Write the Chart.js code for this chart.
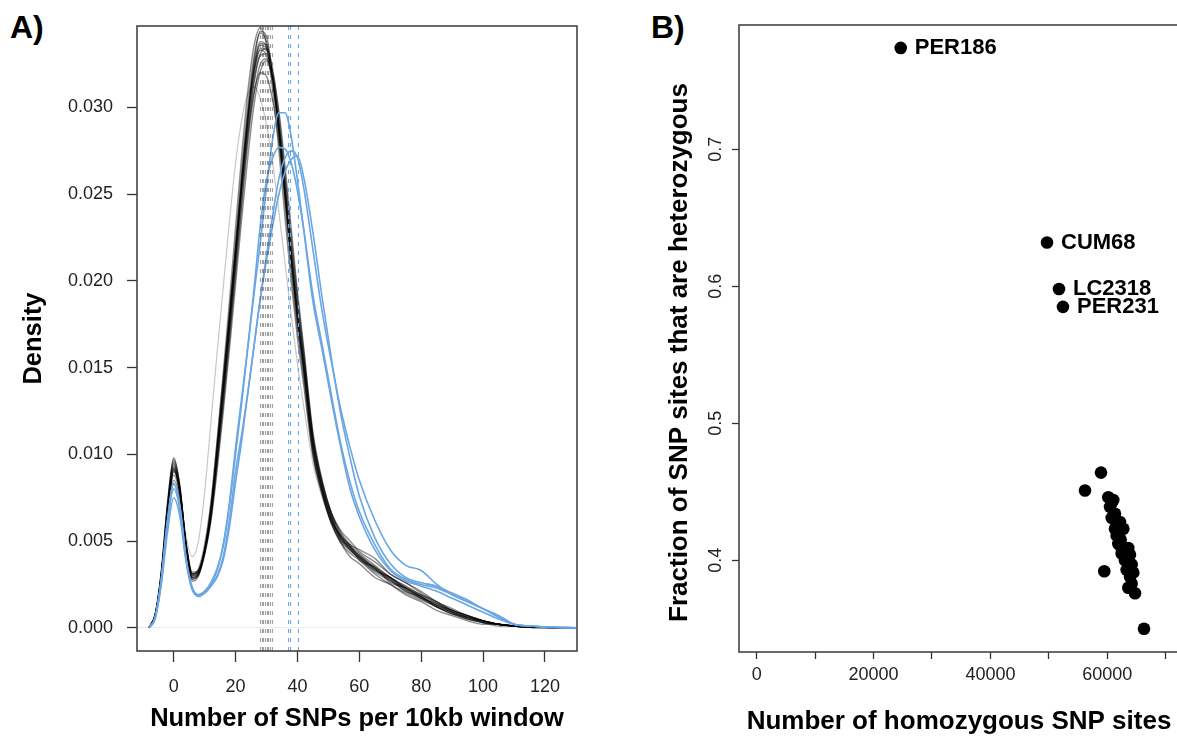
<!DOCTYPE html>
<html>
<head>
<meta charset="utf-8">
<title>SNP density and heterozygosity</title>
<script src="https://cdn.jsdelivr.net/npm/chart.js@4.4.1/dist/chart.umd.min.js"></script>
<style>
  body { margin: 0; width: 1177px; height: 737px; overflow: hidden; position: relative; background: #fff; }
  canvas { position: absolute; top: 0; }
  .panel-tag { position: absolute; font: bold 32px/32px 'Liberation Sans', Arial, Helvetica, sans-serif; color: #000; }
</style>
</head>
<body>
<div class="panel-tag" style="left:10px; top:11px;">A)</div>
<div class="panel-tag" style="left:651px; top:11px;">B)</div>
<canvas id="densityChart" width="590" height="737" style="left:0;"></canvas>
<canvas id="scatterChart" width="590" height="737" style="left:590px;"></canvas>

<script>
// ---- panel A: density of SNPs per 10kb window ----
const snpWindow = [-8, -6, -4, -2, 0, 2, 4, 6, 8, 10, 12, 14, 16, 18, 20, 22, 24, 26, 28, 30,
  32, 34, 36, 38, 40, 42, 45, 48, 51, 54, 57, 60, 65, 70, 75, 80, 85, 90, 95, 100, 105, 110, 115, 120, 130];

// one row per sample (black = main group)
const blackDensity = [
  [0, 0.0007, 0.0030, 0.0068, 0.0094, 0.0080, 0.0048, 0.0030, 0.0032, 0.0044,
   0.0066, 0.0100, 0.0137, 0.0175, 0.0215, 0.0256, 0.0292, 0.0319, 0.0334, 0.0333,
   0.0316, 0.0287, 0.0250, 0.0212, 0.0178, 0.0150, 0.0104, 0.0080, 0.0063, 0.0052,
   0.0046, 0.0041, 0.0034, 0.0028, 0.0022, 0.0018, 0.0013, 0.0009, 0.0006, 0.0004,
   0.0002, 0.0001, 0.00004, 0.00002, 0],
  [0, 0.0008, 0.0033, 0.0072, 0.0098, 0.0082, 0.0047, 0.0028, 0.0030, 0.0043,
   0.0066, 0.0102, 0.0141, 0.0181, 0.0223, 0.0265, 0.0302, 0.0330, 0.0343, 0.0338,
   0.0316, 0.0283, 0.0244, 0.0205, 0.0172, 0.0144, 0.0100, 0.0077, 0.0061, 0.0051,
   0.0045, 0.0040, 0.0032, 0.0027, 0.0021, 0.0017, 0.0012, 0.0008, 0.0005, 0.0003,
   0.0002, 0.0001, 0.00003, 0.00001, 0],
  [0, 0.0006, 0.0027, 0.0062, 0.0088, 0.0076, 0.0047, 0.0031, 0.0032, 0.0042,
   0.0062, 0.0093, 0.0128, 0.0165, 0.0204, 0.0243, 0.0280, 0.0308, 0.0325, 0.0328,
   0.0316, 0.0291, 0.0258, 0.0222, 0.0188, 0.0158, 0.0110, 0.0083, 0.0065, 0.0053,
   0.0048, 0.0045, 0.0040, 0.0031, 0.0026, 0.0021, 0.0015, 0.0011, 0.0007, 0.0004,
   0.0002, 0.0001, 0.00005, 0.00002, 0],
  [0, 0.0007, 0.0031, 0.0069, 0.0092, 0.0078, 0.0046, 0.0028, 0.0031, 0.0044,
   0.0067, 0.0101, 0.0139, 0.0178, 0.0219, 0.0260, 0.0297, 0.0325, 0.0338, 0.0335,
   0.0318, 0.0288, 0.0251, 0.0213, 0.0178, 0.0149, 0.0102, 0.0078, 0.0061, 0.0053,
   0.0047, 0.0039, 0.0035, 0.0026, 0.0023, 0.0017, 0.0013, 0.0010, 0.0006, 0.0003,
   0.0002, 0.0001, 0.00004, 0.00002, 0],
  [0, 0.0006, 0.0028, 0.0064, 0.0090, 0.0078, 0.0049, 0.0032, 0.0033, 0.0043,
   0.0061, 0.0090, 0.0124, 0.0160, 0.0198, 0.0236, 0.0272, 0.0302, 0.0321, 0.0327,
   0.0320, 0.0298, 0.0266, 0.0230, 0.0194, 0.0162, 0.0113, 0.0085, 0.0066, 0.0055,
   0.0048, 0.0043, 0.0036, 0.0029, 0.0024, 0.0019, 0.0015, 0.0010, 0.0007, 0.0004,
   0.0002, 0.0001, 0.00005, 0.00002, 0],
  [0, 0.0007, 0.0031, 0.0070, 0.0096, 0.0081, 0.0047, 0.0029, 0.0031, 0.0043,
   0.0064, 0.0097, 0.0133, 0.0171, 0.0212, 0.0255, 0.0295, 0.0327, 0.0344, 0.0341,
   0.0318, 0.0285, 0.0247, 0.0209, 0.0175, 0.0147, 0.0103, 0.0079, 0.0062, 0.0050,
   0.0045, 0.0040, 0.0033, 0.0028, 0.0021, 0.0018, 0.0012, 0.0008, 0.0006, 0.0003,
   0.0001, 0.0001, 0.00003, 0.00001, 0],
  [0, 0.0007, 0.0030, 0.0066, 0.0091, 0.0079, 0.0049, 0.0031, 0.0034, 0.0048,
   0.0072, 0.0107, 0.0144, 0.0181, 0.0218, 0.0254, 0.0286, 0.0309, 0.0320, 0.0318,
   0.0304, 0.0280, 0.0249, 0.0215, 0.0182, 0.0154, 0.0108, 0.0082, 0.0064, 0.0052,
   0.0046, 0.0042, 0.0034, 0.0029, 0.0023, 0.0018, 0.0013, 0.0009, 0.0006, 0.0004,
   0.0002, 0.0001, 0.00004, 0.00002, 0],
  [0, 0.0008, 0.0032, 0.0070, 0.0095, 0.0079, 0.0046, 0.0029, 0.0031, 0.0044,
   0.0066, 0.0099, 0.0136, 0.0174, 0.0214, 0.0255, 0.0293, 0.0322, 0.0337, 0.0336,
   0.0319, 0.0290, 0.0252, 0.0214, 0.0180, 0.0152, 0.0106, 0.0080, 0.0064, 0.0051,
   0.0047, 0.0041, 0.0033, 0.0029, 0.0022, 0.0017, 0.0014, 0.0009, 0.0006, 0.0004,
   0.0002, 0.0001, 0.00004, 0.00002, 0],
  [0, 0.0007, 0.0030, 0.0067, 0.0093, 0.0080, 0.0048, 0.0030, 0.0032, 0.0045,
   0.0067, 0.0101, 0.0138, 0.0176, 0.0216, 0.0257, 0.0294, 0.0321, 0.0333, 0.0330,
   0.0314, 0.0286, 0.0250, 0.0213, 0.0179, 0.0151, 0.0105, 0.0081, 0.0062, 0.0053,
   0.0045, 0.0041, 0.0034, 0.0027, 0.0023, 0.0018, 0.0012, 0.0009, 0.0005, 0.0004,
   0.0002, 0.0001, 0.00004, 0.00001, 0],
  [0, 0.0007, 0.0032, 0.0071, 0.0097, 0.0081, 0.0046, 0.0027, 0.0030, 0.0045,
   0.0070, 0.0107, 0.0147, 0.0188, 0.0231, 0.0273, 0.0310, 0.0336, 0.0346, 0.0336,
   0.0310, 0.0275, 0.0236, 0.0199, 0.0167, 0.0140, 0.0099, 0.0077, 0.0060, 0.0049,
   0.0041, 0.0037, 0.0029, 0.0025, 0.0019, 0.0015, 0.0010, 0.0007, 0.0004, 0.0002,
   0.0002, 0.0001, 0.00003, 0.00001, 0],
  [0, 0.0006, 0.0026, 0.0060, 0.0085, 0.0074, 0.0046, 0.0031, 0.0033, 0.0044,
   0.0064, 0.0095, 0.0130, 0.0167, 0.0206, 0.0246, 0.0284, 0.0314, 0.0331, 0.0334,
   0.0322, 0.0296, 0.0262, 0.0226, 0.0191, 0.0160, 0.0111, 0.0084, 0.0066, 0.0054,
   0.0047, 0.0042, 0.0035, 0.0029, 0.0023, 0.0019, 0.0014, 0.0010, 0.0007, 0.0004,
   0.0002, 0.0001, 0.00005, 0.00002, 0],
  [0, 0.0007, 0.0030, 0.0067, 0.0092, 0.0079, 0.0047, 0.0029, 0.0031, 0.0045,
   0.0068, 0.0103, 0.0140, 0.0179, 0.0219, 0.0259, 0.0296, 0.0323, 0.0336, 0.0334,
   0.0317, 0.0289, 0.0253, 0.0216, 0.0182, 0.0153, 0.0108, 0.0079, 0.0060, 0.0049,
   0.0043, 0.0039, 0.0031, 0.0025, 0.0020, 0.0016, 0.0012, 0.0008, 0.0005, 0.0003,
   0.0002, 0.0001, 0.00003, 0.00001, 0],
  [0, 0.0007, 0.0029, 0.0066, 0.0091, 0.0078, 0.0048, 0.0031, 0.0033, 0.0045,
   0.0066, 0.0099, 0.0135, 0.0172, 0.0211, 0.0251, 0.0288, 0.0316, 0.0330, 0.0331,
   0.0317, 0.0291, 0.0256, 0.0219, 0.0185, 0.0156, 0.0109, 0.0084, 0.0066, 0.0056,
   0.0050, 0.0044, 0.0038, 0.0031, 0.0026, 0.0020, 0.0015, 0.0010, 0.0007, 0.0004,
   0.0002, 0.0001, 0.00004, 0.00002, 0]
];

// the pale early-rising sample
const outlierDensity = [0, 0.0006, 0.0029, 0.0065, 0.0090, 0.0079, 0.0053, 0.0041, 0.0050, 0.0078,
  0.0118, 0.0158, 0.0196, 0.0234, 0.0268, 0.0293, 0.0308, 0.0312, 0.0305, 0.0290,
  0.0268, 0.0240, 0.0210, 0.0180, 0.0152, 0.0128, 0.0095, 0.0075, 0.0060, 0.0050,
  0.0044, 0.0040, 0.0035, 0.0029, 0.0024, 0.0019, 0.0014, 0.0010, 0.0007, 0.0004,
  0.0002, 0.0001, 0.00004, 0.00002, 0];

// highlighted (blue) samples
const blueDensity = [
  [0, 0.0006, 0.0028, 0.0062, 0.0083, 0.0070, 0.0040, 0.0023, 0.0019, 0.0021,
   0.0025, 0.0033, 0.0048, 0.0072, 0.0104, 0.0133, 0.0163, 0.0193, 0.0222, 0.0254,
   0.0282, 0.0297, 0.0297, 0.0283, 0.0258, 0.0230, 0.0188, 0.0160, 0.0131, 0.0104,
   0.0080, 0.0064, 0.0045, 0.0033, 0.0027, 0.0024, 0.0021, 0.0017, 0.0013, 0.0009,
   0.0005, 0.0002, 0.0001, 0.00004, 0],
  [0, 0.0005, 0.0025, 0.0055, 0.0075, 0.0064, 0.0038, 0.0022, 0.0019, 0.0021,
   0.0026, 0.0034, 0.0047, 0.0070, 0.0100, 0.0130, 0.0162, 0.0196, 0.0232, 0.0258,
   0.0271, 0.0277, 0.0276, 0.0268, 0.0252, 0.0230, 0.0192, 0.0163, 0.0134, 0.0106,
   0.0084, 0.0067, 0.0048, 0.0034, 0.0028, 0.0025, 0.0023, 0.0019, 0.0015, 0.0011,
   0.0006, 0.0002, 0.0001, 0.00004, 0],
  [0, 0.0006, 0.0028, 0.0062, 0.0083, 0.0070, 0.0040, 0.0023, 0.0019, 0.0020,
   0.0024, 0.0030, 0.0041, 0.0062, 0.0090, 0.0112, 0.0136, 0.0163, 0.0190, 0.0215,
   0.0238, 0.0259, 0.0271, 0.0275, 0.0271, 0.0254, 0.0218, 0.0182, 0.0153, 0.0126,
   0.0104, 0.0085, 0.0062, 0.0045, 0.0036, 0.0033, 0.0025, 0.0019, 0.0015, 0.0011,
   0.0007, 0.0002, 0.0001, 0.00004, 0],
  [0, 0.0006, 0.0027, 0.0060, 0.0080, 0.0068, 0.0039, 0.0022, 0.0018, 0.0020,
   0.0024, 0.0029, 0.0039, 0.0058, 0.0084, 0.0108, 0.0136, 0.0163, 0.0190, 0.0212,
   0.0232, 0.0250, 0.0263, 0.0270, 0.0272, 0.0260, 0.0228, 0.0190, 0.0155, 0.0123,
   0.0098, 0.0076, 0.0052, 0.0037, 0.0029, 0.0026, 0.0024, 0.0020, 0.0016, 0.0011,
   0.0007, 0.0002, 0.0001, 0.00004, 0]
];

// mean SNP count per sample (dashed verticals)
const blackMeans = [28.0, 28.5, 29.0, 29.6, 30.1, 30.6, 31.2, 31.9];
const blueMeans = [36.9, 37.6, 40.1];

const densityXTicks = [0, 20, 40, 60, 80, 100, 120];
const densityYTicks = [0, 0.005, 0.010, 0.015, 0.020, 0.025, 0.030];

// ---- panel B: homozygous sites vs heterozygous fraction ----
const pointLabels = ['PER186', 'CUM68', 'LC2318', 'PER231'];
const homSites = [24650, 49690, 51740, 52420, 58930, 56190, 59490, 66290, 60180, 61030,
  60470, 61320, 60760, 62180, 61320, 62750, 61890, 62460, 63600, 62460,
  63890, 63030, 64180, 63320, 63890, 64180, 63600, 64750, 60750, 61600,
  62300, 63030, 64460];
const hetFraction = [0.774, 0.632, 0.598, 0.585, 0.464, 0.451, 0.392, 0.350, 0.446, 0.444,
  0.439, 0.434, 0.431, 0.428, 0.423, 0.423, 0.412, 0.409, 0.409, 0.405,
  0.404, 0.400, 0.397, 0.393, 0.388, 0.383, 0.380, 0.376, 0.442, 0.418,
  0.415, 0.403, 0.391];

const homXTicks = [0, 10000, 20000, 30000, 40000, 50000, 60000, 70000];
const hetYTicks = [0.4, 0.5, 0.6, 0.7];

const FONT = "'Liberation Sans', Arial, Helvetica, sans-serif";
const BLUE = '#6aa6e4';
Chart.defaults.font.family = FONT;
Chart.defaults.color = '#111';

function toPoints(values) {
  return snpWindow.map((x, i) => ({ x: x, y: values[i] }));
}

// keep the plot region exactly where the scales say
function noEdgePadding(s) {
  s.paddingLeft = 0;
  s.paddingRight = 0;
}

// box round the plot region, like R's box()
const frame = {
  id: 'frame',
  afterDraw(chart) {
    const { ctx, chartArea: a } = chart;
    ctx.save();
    ctx.strokeStyle = '#444';
    ctx.lineWidth = 1.6;
    ctx.strokeRect(a.left, a.top, a.right - a.left, a.bottom - a.top);
    ctx.restore();
  }
};

const meanLines = {
  id: 'meanLines',
  afterDatasetsDraw(chart) {
    const { ctx, chartArea: a, scales } = chart;
    ctx.save();
    ctx.beginPath();
    ctx.rect(a.left, a.top, a.right - a.left, a.bottom - a.top);
    ctx.clip();
    ctx.setLineDash([4, 5]);
    ctx.lineWidth = 1.1;
    const draw = (list, color) => {
      ctx.strokeStyle = color;
      list.forEach(m => {
        const x = Math.round(scales.x.getPixelForValue(m)) + 0.5;
        ctx.beginPath();
        ctx.moveTo(x, a.top);
        ctx.lineTo(x, a.bottom);
        ctx.stroke();
      });
    };
    draw(blackMeans, 'rgba(70,70,70,0.5)');
    draw(blueMeans, BLUE);
    ctx.restore();
  }
};

const datasetsA = [];
blueDensity.forEach(v => datasetsA.push({
  data: toPoints(v), borderColor: BLUE, borderWidth: 1.6, order: 0
}));
blackDensity.forEach(v => datasetsA.push({
  data: toPoints(v), borderColor: 'rgba(0,0,0,0.45)', borderWidth: 1.4, order: 1
}));
datasetsA.push({ data: toPoints(outlierDensity), borderColor: 'rgba(0,0,0,0.22)', borderWidth: 1.2, order: 1 });

new Chart(document.getElementById('densityChart'), {
  type: 'line',
  data: { datasets: datasetsA },
  options: {
    responsive: false,
    animation: false,
    devicePixelRatio: 1,
    layout: { autoPadding: false, padding: { left: 0, top: 26, right: 13, bottom: 0 } },
    elements: {
      point: { radius: 0 },
      line: { cubicInterpolationMode: 'monotone', fill: false }
    },
    plugins: { legend: { display: false }, tooltip: { enabled: false } },
    scales: {
      x: {
        type: 'linear',
        min: -11.86,
        max: 130.35,
        afterBuildTicks: s => { s.ticks = densityXTicks.map(v => ({ value: v })); },
        afterFit: s => { s.height = 86; noEdgePadding(s); },
        border: { display: false },
        grid: { drawOnChartArea: false, tickColor: '#333', tickLength: 11, tickWidth: 1.3 },
        ticks: { autoSkip: false, maxRotation: 0, padding: 14, font: { size: 18 }, color: '#222' },
        title: {
          display: true,
          text: 'Number of SNPs per 10kb window',
          color: '#000',
          font: { size: 25.5, weight: 'bold' },
          padding: { top: 0, bottom: 3 }
        }
      },
      y: {
        type: 'linear',
        min: -0.00134,
        max: 0.0347,
        afterBuildTicks: s => { s.ticks = densityYTicks.map(v => ({ value: v })); },
        afterFit: s => { s.width = 137; },
        border: { display: false },
        grid: {
          color: c => (c.tick && c.tick.value === 0 ? '#ececec' : 'rgba(0,0,0,0)'),
          tickColor: '#333',
          tickLength: 10,
          tickWidth: 1.3
        },
        ticks: {
          autoSkip: false,
          padding: 14,
          font: { size: 18 },
          color: '#222',
          callback: v => Number(v).toFixed(3)
        },
        title: {
          display: true,
          text: 'Density',
          color: '#000',
          font: { size: 25.5, weight: 'bold' },
          padding: { top: 19, bottom: 0 }
        }
      }
    }
  },
  plugins: [meanLines, frame]
});

// names beside the outlying samples
const sampleNames = {
  id: 'sampleNames',
  afterDatasetsDraw(chart) {
    const { ctx } = chart;
    const meta = chart.getDatasetMeta(0);
    ctx.save();
    ctx.fillStyle = '#000';
    ctx.font = 'bold 22px ' + FONT;
    ctx.textBaseline = 'middle';
    ctx.textAlign = 'left';
    pointLabels.forEach((name, i) => {
      const el = meta.data[i];
      ctx.fillText(name, el.x + 14, el.y);
    });
    ctx.restore();
  }
};

// R style vertical tick labels and axis title on the y axis
const sideAxis = {
  id: 'sideAxis',
  afterDraw(chart) {
    const { ctx, chartArea: a, scales } = chart;
    ctx.save();
    ctx.textAlign = 'center';
    ctx.textBaseline = 'middle';
    ctx.fillStyle = '#222';
    ctx.font = '18px ' + FONT;
    hetYTicks.forEach(v => {
      const y = scales.y.getPixelForValue(v);
      ctx.save();
      ctx.translate(a.left - 23, y);
      ctx.rotate(-Math.PI / 2);
      ctx.fillText(v.toFixed(1), 0, 0);
      ctx.restore();
    });
    ctx.fillStyle = '#000';
    ctx.font = 'bold 26px ' + FONT;
    ctx.translate(a.left - 59, (a.top + a.bottom) / 2 + 14);
    ctx.rotate(-Math.PI / 2);
    ctx.fillText('Fraction of SNP sites that are heterozygous', 0, 0);
    ctx.restore();
  }
};

new Chart(document.getElementById('scatterChart'), {
  type: 'scatter',
  data: {
    datasets: [{
      data: homSites.map((x, i) => ({ x: x, y: hetFraction[i] })),
      backgroundColor: '#000',
      borderWidth: 0,
      pointRadius: 6.3
    }]
  },
  options: {
    responsive: false,
    animation: false,
    devicePixelRatio: 1,
    layout: { autoPadding: false, padding: { left: 0, top: 25, right: 1, bottom: 0 } },
    plugins: { legend: { display: false }, tooltip: { enabled: false } },
    scales: {
      x: {
        type: 'linear',
        min: -3030,
        max: 72280,
        afterBuildTicks: s => { s.ticks = homXTicks.map(v => ({ value: v })); },
        afterFit: s => { s.height = 85; noEdgePadding(s); },
        border: { display: false },
        grid: { drawOnChartArea: false, tickColor: '#333', tickLength: 7, tickWidth: 1.3 },
        ticks: {
          autoSkip: false,
          maxRotation: 0,
          padding: 5,
          font: { size: 18 },
          color: '#222',
          callback: v => (v % 20000 === 0 ? String(v) : '')
        },
        title: {
          display: true,
          text: 'Number of homozygous SNP sites',
          color: '#000',
          font: { size: 26, weight: 'bold' },
          padding: { top: 0, bottom: 0 }
        }
      },
      y: {
        type: 'linear',
        min: 0.33307,
        max: 0.79073,
        afterBuildTicks: s => { s.ticks = hetYTicks.map(v => ({ value: v })); },
        afterFit: s => { s.width = 149; },
        border: { display: false },
        grid: { drawOnChartArea: false, tickColor: '#333', tickLength: 7, tickWidth: 1.3 },
        ticks: { display: false }
      }
    }
  },
  plugins: [sampleNames, sideAxis, frame]
});
</script>
</body>
</html>
